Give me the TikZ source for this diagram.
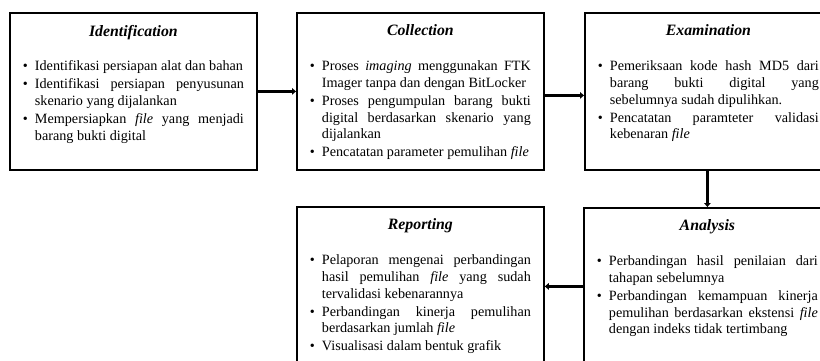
\documentclass[tikz,border=0pt]{standalone}
\usepackage{fontspec}
\setmainfont{Liberation Serif}
\usepackage{enumitem}
\usetikzlibrary{positioning,arrows.meta}

\hyphenpenalty=10000
\exhyphenpenalty=10000

% stage box contents: title and bullet list
\newcommand{\stagecontent}[2]{%
  \begin{minipage}[t][157pt][t]{247pt}
    \vspace*{12pt}
    \centering{\fontsize{15.8}{18}\selectfont\bfseries\itshape #1\par}
    \vspace{18pt}
    \fontsize{14.2}{16.8}\selectfont
    \begin{itemize}[label=\textbullet, leftmargin=25pt, rightmargin=13pt,
      labelsep=7pt, itemsep=1pt, topsep=0pt, parsep=0pt, partopsep=0pt]
      #2
    \end{itemize}
  \end{minipage}}

\begin{document}
\begin{tikzpicture}[
    stage/.style={draw, line width=1.8pt, inner sep=0pt, anchor=north west},
    flow/.style={line width=3pt, -{Triangle[length=4pt, width=6.5pt]}}
]

% Frame (the figure is cut off on the right and at the bottom)
\useasboundingbox (0pt,0pt) rectangle (820pt,-360pt);
\clip (0pt,0pt) rectangle (820pt,-360pt);

% Top row
\node[stage] (ident) at (9pt,-12pt) {\stagecontent{Identification}{%
  \item Identifikasi persiapan alat dan bahan
  \item Identifikasi persiapan penyusunan\linebreak skenario yang dijalankan
  \item Mempersiapkan \textit{file} yang menjadi\linebreak barang bukti digital}};

\node[stage] (coll) at (296pt,-12pt) {\stagecontent{Collection}{%
  \item Proses \textit{imaging} menggunakan FTK\linebreak Imager tanpa dan dengan BitLocker
  \item Proses pengumpulan barang bukti\linebreak digital berdasarkan skenario yang\linebreak dijalankan
  \item Pencatatan parameter pemulihan \textit{file}}};

\node[stage] (exam) at (584pt,-12pt) {\stagecontent{Examination}{%
  \item Pemeriksaan kode hash MD5 dari\linebreak barang bukti digital yang\linebreak sebelumnya sudah dipulihkan.
  \item Pencatatan paramteter validasi\linebreak kebenaran \textit{file}}};

% Bottom row
\node[stage] (anal) at (583pt,-207pt) {\stagecontent{Analysis}{%
  \item Perbandingan hasil penilaian dari\linebreak tahapan sebelumnya
  \item Perbandingan kemampuan kinerja\linebreak pemulihan berdasarkan ekstensi \textit{file}\linebreak dengan indeks tidak tertimbang}};

\node[stage] (rep) at (296pt,-206pt) {\stagecontent{Reporting}{%
  \item Pelaporan mengenai perbandingan\linebreak hasil pemulihan \textit{file} yang sudah\linebreak tervalidasi kebenarannya
  \item Perbandingan kinerja pemulihan\linebreak berdasarkan jumlah \textit{file}
  \item Visualisasi dalam bentuk grafik}};

% Arrows
\draw[flow] (ident.east) -- (coll.west);
\draw[flow] ([yshift=-4pt]coll.east) -- ([yshift=-4pt]coll.east -| exam.west);
\draw[flow] ([xshift=-1pt]exam.south) -- ([xshift=-1pt]exam.south |- anal.north);
\draw[flow] (anal.west) -- (anal.west -| rep.east);

\end{tikzpicture}
\end{document}
